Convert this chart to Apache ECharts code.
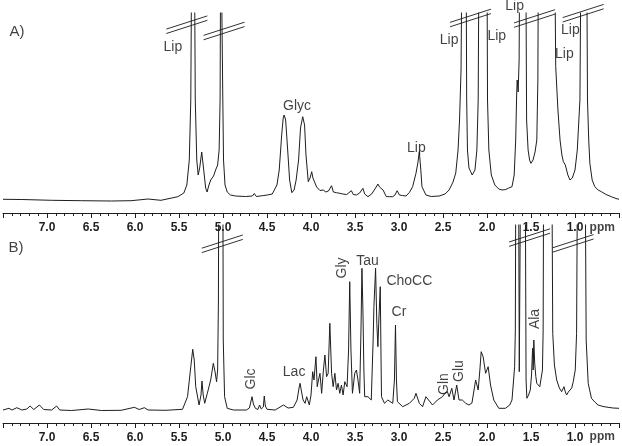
<!DOCTYPE html>
<html><head><meta charset="utf-8">
<style>html,body{margin:0;padding:0;background:#fff}#c{width:622px;height:446px}</style>
<script src="https://cdn.jsdelivr.net/npm/echarts@6/dist/echarts.min.js"></script>
</head><body><div id="c"></div>
<script>
// ---- Spectrum A (ppm, intensity; 300 = peak runs off scale) ----
const ppmA = [7.500,7.286,6.947,6.608,6.269,6.044,5.852,5.705,5.513,5.445,5.411,5.383,5.366,5.353,5.327,5.315,5.298,5.282,5.265,5.242,5.219,5.197,5.180,5.163,5.140,5.107,5.084,5.061,5.044,5.033,5.025,5.011,5.002,4.994,4.977,4.952,4.915,4.858,4.745,4.666,4.644,4.621,4.553,4.497,4.440,4.387,4.361,4.333,4.316,4.305,4.288,4.265,4.243,4.218,4.192,4.169,4.141,4.119,4.094,4.073,4.057,4.031,4.011,3.992,3.978,3.936,3.898,3.861,3.831,3.802,3.766,3.746,3.710,3.673,3.639,3.594,3.541,3.520,3.484,3.447,3.410,3.390,3.353,3.311,3.266,3.240,3.221,3.202,3.181,3.145,3.108,3.071,3.046,3.021,2.995,2.961,2.920,2.882,2.845,2.807,2.786,2.769,2.752,2.739,2.694,2.634,2.544,2.476,2.431,2.386,2.355,2.329,2.312,2.295,2.281,2.239,2.231,2.222,2.205,2.168,2.137,2.115,2.100,2.089,2.002,1.994,1.979,1.951,1.911,1.866,1.829,1.787,1.753,1.716,1.691,1.674,1.663,1.657,1.646,1.635,1.626,1.561,1.550,1.533,1.516,1.501,1.477,1.454,1.434,1.422,1.414,1.234,1.219,1.194,1.170,1.149,1.132,1.110,1.081,1.057,1.031,1.000,0.974,0.944,0.929,0.869,0.858,0.844,0.831,0.805,0.775,0.737,0.700,0.647,0.587,0.534,0.500];
const intA = [13.7,13.5,12.7,12.3,12.0,12.3,14.0,12.7,16.3,20,28,53,113,300,300,113,53,38,45,61,43,25,21,27,33,37,43,48,63,113,300,300,113,53,28,21,18,17,16.5,17,19.5,16.5,17.3,18,19,28,43,78,95,98,93,63,33,20.3,23,33,53,85,96.3,88,58,31.3,35,41.3,35,26,22.5,23,21,22,27.3,21,20.3,19.7,19,18.5,22.3,18.5,18,20,24.7,19,16.3,19,25,29,26,26.3,23,16.5,16.3,16.3,18,22.3,18,17.5,17,20.5,26.3,39.7,50,61.3,43,26.3,18,16.5,17,19,23,31,40,63,93,143,300,300,113,63,45,38,43,63,113,300,300,113,63,38,28,24,23,23.5,25,26.3,38,73,118,133,121,153,300,300,93,63,53,49.7,53,61,73,133,300,300,146.3,103,73,58,51.3,48,38,33,35,43,63,113,300,300,113,73,49.7,33,26.3,23,21.3,18.5,16.3,14.5,13.7];

// ---- Spectrum B ----
const ppmB = [7.500,7.432,7.398,7.342,7.286,7.229,7.192,7.150,7.086,7.037,6.947,6.890,6.856,6.721,6.532,6.382,6.157,6.006,5.953,5.893,5.852,5.648,5.460,5.403,5.366,5.344,5.327,5.310,5.272,5.250,5.239,5.225,5.208,5.178,5.140,5.110,5.090,5.073,5.061,5.052,5.047,5.003,4.997,4.982,4.952,4.881,4.734,4.700,4.670,4.655,4.632,4.604,4.584,4.565,4.542,4.531,4.519,4.500,4.407,4.313,4.260,4.200,4.158,4.136,4.124,4.107,4.090,4.068,4.049,4.019,4.000,3.981,3.966,3.944,3.929,3.915,3.898,3.879,3.859,3.842,3.823,3.805,3.786,3.766,3.748,3.729,3.710,3.692,3.673,3.654,3.635,3.616,3.590,3.573,3.560,3.546,3.529,3.503,3.484,3.466,3.447,3.432,3.421,3.410,3.399,3.390,3.353,3.315,3.294,3.285,3.266,3.252,3.240,3.229,3.213,3.204,3.199,3.165,3.127,3.071,3.052,3.040,3.029,3.018,2.958,2.882,2.826,2.807,2.769,2.732,2.694,2.664,2.619,2.563,2.506,2.476,2.450,2.431,2.400,2.375,2.344,2.318,2.281,2.242,2.205,2.171,2.149,2.129,2.100,2.081,2.066,2.044,2.016,1.987,1.960,1.923,1.866,1.791,1.742,1.716,1.686,1.678,1.671,1.643,1.633,1.624,1.615,1.567,1.556,1.547,1.528,1.508,1.494,1.482,1.475,1.468,1.458,1.445,1.434,1.414,1.400,1.370,1.362,1.355,1.265,1.253,1.234,1.208,1.178,1.152,1.125,1.110,1.095,1.076,1.057,1.037,1.020,0.997,0.982,0.969,0.887,0.873,0.850,0.813,0.775,0.737,0.681,0.624,0.568,0.500];
const intB = [13,14.7,13,15.3,13,14,17,13.5,18,13.5,13,17,13,12.5,14,12.5,12.7,15.7,13.5,15.3,13,12.7,13.7,26.3,56.3,73.7,63,36.3,18,28,42,28,19.7,29.7,43,59.7,51,41.3,53,123,300,300,83,26.3,14.7,13,13,15,26.3,19,14.7,13.5,18,14,16,27,17,13.7,13,18,15,15.7,23,35,39.7,31,23,19.7,26.3,18,28,51.3,43,66.3,36.3,43,49.7,29.7,53,68,46.3,49.7,99.7,49.7,36.3,49.7,33,39.7,29.7,38,28,41.3,36.3,73,141.3,73,29.7,49.7,53,43,29.7,93,154.7,113,53,26.3,26.3,23,83,116.3,154.7,99.7,76.3,103,136.3,63,26.3,19.7,23,19.7,43,98,43,21.3,16.3,19.7,24.7,29.7,19.7,16.3,26.3,23,18,23,26.3,30,31.3,26.3,34.7,23,38,23,23,19.7,18,20,21.3,43,33,53,71.3,66.3,49.7,56.3,38,23,14.7,14.7,18,23,56.3,93,300,300,51.3,51.3,300,300,43,24.7,28,33,48,74.7,53,83,60,46.3,39.7,38,36.3,53,93,300,300,89.7,58,43,35,31.3,36.3,31,28,31,31.3,35,41.3,53,89.7,300,300,83,39.7,24.7,21,18,16.5,15.7,15,14.7];

// ---- Axis tick labels ----
const tickLabels = ['7.0','6.5','6.0','5.5','5.0','4.5','4.0','3.5','3.0','2.5','2.0','1.5','1.0'];
const unitLabel = 'ppm';

// ---- Annotations (text, ppm, intensity, rotated?) ----
const annA = ['A)','Lip','Glyc','Lip','Lip','Lip','Lip','Lip','Lip'];
const annAPpm = [7.342,5.569,4.158,2.803,2.431,1.889,1.686,1.053,1.121];
const annAInt = [181,166,107,65,173,177,207,183,159];
const annB = ['B)','Glc','Lac','Gly','Tau','ChoCC','Cr','Gln','Glu','Ala'];
const annBPpm = [7.353,4.677,4.192,3.645,3.357,2.882,3.001,2.487,2.318,1.449];
const annBInt = [175,44,51,155,162,142,111,39,52,104];
const annBRot = [0,1,0,1,0,0,0,1,1,1];

// ---- Axis-break marks (ppm, intensity) ----
const breakAPpm = [5.411,4.988,2.188,1.460,0.907];
const breakAInt = [188.3,182,195,194.5,199.8];
const breakBPpm = [5.008,1.516,1.022];
const breakBInt = [179.2,185.4,179.6];

const FONT = '"Liberation Sans", Arial, Helvetica, sans-serif';
const INK = '#1e1e1e';

function xAxisCfg(gi){
  return {type:'value', gridIndex:gi, min:0.5, max:7.5, interval:0.5, inverse:true,
    axisLine:{show:true, onZero:false, lineStyle:{color:INK, width:1}},
    axisTick:{show:true, length:5, lineStyle:{color:INK, width:1}},
    minorTick:{show:true, splitNumber:5, length:3, lineStyle:{color:INK, width:1}},
    splitLine:{show:false}, minorSplitLine:{show:false},
    axisLabel:{margin:9, fontFamily:FONT, fontWeight:'bold', fontSize:12, color:INK,
      formatter: v => { const s = Number(v).toFixed(1); return tickLabels.includes(s) ? s : ''; }}};
}
function spectrum(gi, xs, ys){
  return {type:'line', xAxisIndex:gi, yAxisIndex:gi, data:xs.map((p,i)=>[p, ys[i]]),
    symbol:'none', showSymbol:false, clip:true, silent:true, animation:false,
    lineStyle:{color:INK, width:1}};
}
function breaks(gi, xs, ys){
  return {type:'custom', xAxisIndex:gi, yAxisIndex:gi, clip:false, silent:true, animation:false,
    data:xs.map((p,i)=>[p, ys[i]]),
    renderItem:(params, api)=>{
      const c = api.coord([api.value(0), api.value(1)]);
      const mk = off => ({type:'line', shape:{x1:c[0]-20.5, y1:c[1]+6.6+off, x2:c[0]+20.5, y2:c[1]-6.6+off},
        style:{stroke:'#333', lineWidth:1}});
      return {type:'group', children:[mk(-2.2), mk(2.2)]};
    }};
}
function labels(gi, names, xs, ys, rots, ppmInt){
  const data = names.map((n,i)=>({value:[xs[i], ys[i]], name:n,
    label:{rotate:(rots && rots[i]) ? 90 : 0, fontSize: n.endsWith(')') ? 15 : 14}}));
  data.push({value:[0.69, ppmInt], name:unitLabel, label:{fontWeight:'bold', fontSize:12}});
  return {type:'scatter', xAxisIndex:gi, yAxisIndex:gi, clip:false, silent:true, animation:false,
    symbol:'circle', symbolSize:1, itemStyle:{color:'rgba(0,0,0,0)'},
    label:{show:true, position:'inside', formatter:p=>p.name, color:'#111', fontFamily:FONT, fontSize:14},
    data};
}

const chart = echarts.init(document.getElementById('c'), null, {renderer:'canvas'});
chart.setOption({
  animation:false,
  backgroundColor:'#fff',
  grid:[{left:1, width:620, top:13, height:200}, {left:1, width:620, top:225, height:198}],
  xAxis:[xAxisCfg(0), xAxisCfg(1)],
  yAxis:[{type:'value', gridIndex:0, min:0, max:200, show:false},
         {type:'value', gridIndex:1, min:0, max:198, show:false}],
  series:[
    spectrum(0, ppmA, intA), spectrum(1, ppmB, intB),
    breaks(0, breakAPpm, breakAInt), breaks(1, breakBPpm, breakBInt),
    labels(0, annA, annAPpm, annAInt, null, -15),
    labels(1, annB, annBPpm, annBInt, annBRot, -14)
  ]
});
</script></body></html>
